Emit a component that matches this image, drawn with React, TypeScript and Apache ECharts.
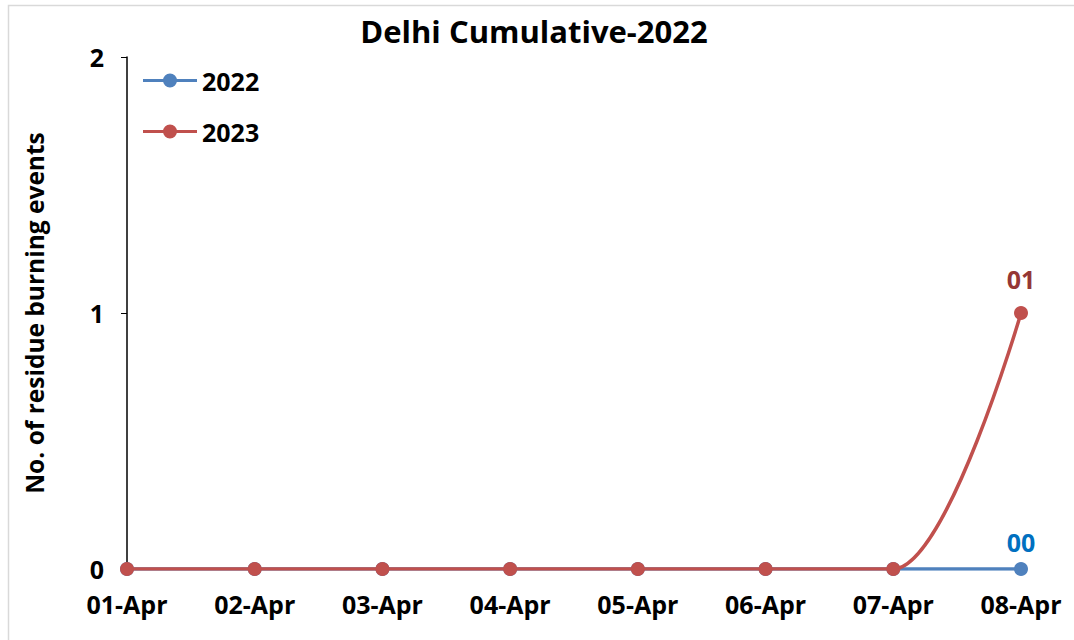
import React, { useEffect, useRef } from "react";
import * as echarts from "echarts";

const categories = ["01-Apr", "02-Apr", "03-Apr", "04-Apr", "05-Apr", "06-Apr", "07-Apr", "08-Apr"];
const values2022 = [0, 0, 0, 0, 0, 0, 0, 0];
const values2023 = [0, 0, 0, 0, 0, 0, 0, 1];
const yTicks = [0, 1, 2];

const FONT = "Open Sans";
const LEGEND_ICON =
  "path://M0,5.5L54,5.5L54,8.5L0,8.5Z M20,7A7,7 0 1,1 34,7A7,7 0 1,1 20,7Z";

function withLastLabel(values: number[], color: string, distance: number) {
  return values.map((v, i) =>
    i === values.length - 1
      ? {
          value: v,
          label: {
            show: true,
            position: "top",
            distance,
            color,
            fontFamily: FONT,
            fontWeight: "bold",
            fontSize: 25,
            formatter: (p: any) => String(p.value).padStart(2, "0"),
          },
        }
      : v
  );
}

export default function App() {
  const ref = useRef<HTMLDivElement>(null);
  useEffect(() => {
    if (!ref.current) return;
    const chart = echarts.init(ref.current, undefined, { renderer: "svg" });
    chart.setOption({
      animation: false,
      backgroundColor: "#ffffff",
      title: {
        text: "Delhi Cumulative-2022",
        left: 529,
        top: 10,
        textAlign: "center",
        textStyle: { fontFamily: FONT, fontWeight: "bold", fontSize: 31, color: "#000" },
      },
      graphic: [
        {
          type: "rect",
          shape: { x: 8.5, y: 5.5, width: 1100, height: 700 },
          style: { fill: "none", stroke: "#d9d9d9", lineWidth: 1.5 },
          silent: true,
        },
      ],
      legend: {
        orient: "vertical",
        left: 138,
        top: 63,
        itemGap: 26,
        itemWidth: 54,
        itemHeight: 14,
        icon: LEGEND_ICON,
        textStyle: { fontFamily: FONT, fontWeight: "bold", fontSize: 25, color: "#000" },
        data: ["2022", "2023"],
      },
      grid: { left: 127, right: 53, top: 57, bottom: 71, containLabel: false },
      xAxis: {
        type: "category",
        data: categories,
        boundaryGap: false,
        axisLine: { show: true, lineStyle: { color: "#000", width: 1.5 } },
        axisTick: { show: true, alignWithLabel: true, length: 5, lineStyle: { color: "#000" } },
        axisLabel: {
          margin: 22,
          fontFamily: FONT,
          fontWeight: "bold",
          fontSize: 25,
          color: "#000",
          interval: 0,
        },
        splitLine: { show: false },
      },
      yAxis: {
        type: "value",
        min: yTicks[0],
        max: yTicks[yTicks.length - 1],
        interval: 1,
        name: "No. of residue burning events",
        nameLocation: "middle",
        nameRotate: 90,
        nameGap: 80,
        nameTextStyle: { fontFamily: FONT, fontWeight: "bold", fontSize: 24.5, color: "#000" },
        axisLine: { show: true, lineStyle: { color: "#000", width: 1.5 } },
        axisTick: { show: true, length: 6, lineStyle: { color: "#000" } },
        axisLabel: {
          margin: 23,
          fontFamily: FONT,
          fontWeight: "bold",
          fontSize: 25,
          color: "#000",
        },
        splitLine: { show: false },
      },
      series: [
        {
          name: "2022",
          type: "line",
          smooth: 0.3,
          data: withLastLabel(values2022, "#0070C0", 8),
          symbol: "circle",
          symbolSize: 14,
          lineStyle: { width: 3.5, color: "#4F81BD" },
          itemStyle: { color: "#4F81BD" },
          z: 2,
        },
        {
          name: "2023",
          type: "line",
          smooth: 0.3,
          data: withLastLabel(values2023, "#953735", 15),
          symbol: "circle",
          symbolSize: 14,
          lineStyle: { width: 3.5, color: "#C0504D" },
          itemStyle: { color: "#C0504D" },
          z: 3,
        },
      ],
    });
    return () => chart.dispose();
  }, []);
  return (
    <div
      ref={ref}
      style={{ position: "absolute", left: 0, top: 0, width: 1074, height: 640 }}
    />
  );
}
